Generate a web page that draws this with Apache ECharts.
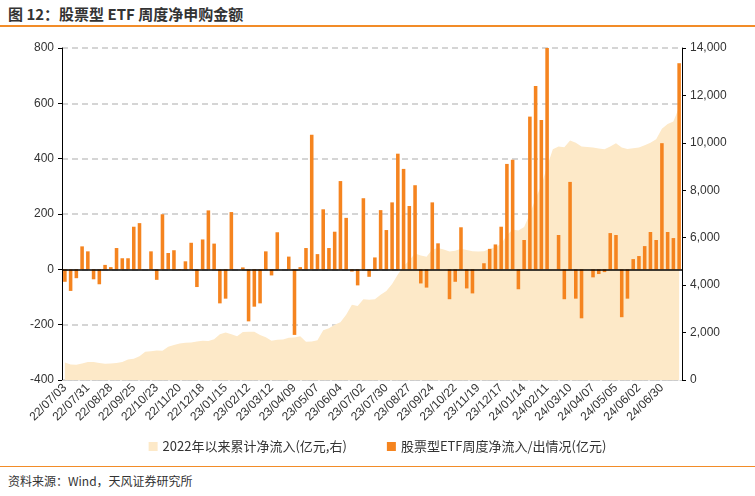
<!DOCTYPE html>
<html lang="zh">
<head>
    <meta charset="UTF-8">
    <title>股票型ETF周度净申购金额</title>
    <script src="https://cdn.jsdelivr.net/npm/echarts@6/dist/echarts.min.js"></script>
    <style>
        body { margin: 0; width: 755px; height: 496px; background: #fff; font-family: "Noto Sans CJK SC", sans-serif; overflow: hidden; }
        .title { position: absolute; left: 8px; top: 3px; font-size: 15px; font-weight: bold; color: #333; }
        .line-top { position: absolute; left: 0; top: 25px; width: 755px; height: 2px; background: #f28c28; }
        .line-bot { position: absolute; left: 0; top: 466px; width: 755px; height: 1px; background: #f28c28; }
        .source { position: absolute; left: 8px; top: 472px; font-size: 12px; color: #333; }
        #chart { position: absolute; left: 0; top: 28px; width: 755px; height: 438px; }
    </style>
</head>
<body>
<div class="title">图 12：股票型 ETF 周度净申购金额</div>
<div class="line-top"></div>
<div id="chart"></div>
<div class="line-bot"></div>
<div class="source">资料来源：Wind，天风证券研究所</div>
<script>
    // 周度净流入（亿元，左轴）
    var weekly = [-45,-78,-32,83,65,-36,-54,16,8,77,40,40,154,167,0,65,-38,199,59,69,
        -3,29,96,-64,108,213,93,-123,-106,207,0,7,-188,-135,-123,65,-22,134,0,46,
        -237,8,77,486,55,217,77,136,319,186,-8,-58,
        257,-27,43,214,142,242,418,363,229,304,-51,-66,242,94,0,-108,-45,152,-69,-87,
        0,22,74,90,154,381,396,-72,106,552,663,540,800,0,124,-108,316,-106,-177,0,
        -29,-17,-10,131,124,-173,-106,37,48,84,135,106,456,135,113,745];
    // 2022年以来累计净流入（亿元，右轴）
    var cumulative = [742,650,640,700,760,760,720,690,700,720,760,860,900,1000,1190,1210,1240,1230,1400,1480,
        1540,1570,1580,1620,1650,1640,1720,1930,2000,1930,1850,2020,2030,2030,1900,1800,1660,1700,1710,1780,
        1790,1840,1610,1620,1680,2100,2180,2330,2440,2750,3178,3122,
        3400,3380,3400,3600,3750,4050,4450,4800,5050,5330,5250,5200,5500,5570,5500,5420,5450,5530,5480,5430,
        5420,5430,5520,5600,5750,6100,6350,6300,6450,7000,7650,8200,9000,9730,9850,9820,10100,10000,9850,9830,
        9800,9760,9730,9850,9980,9800,9740,9770,9800,9900,10000,10150,10600,10800,10900,11500];

    // 周日期
    var dates = [];
    var d = new Date(2022, 6, 3);
    for (var i = 0; i < weekly.length; i++) {
        var yy = String(d.getFullYear()).slice(2);
        var mm = ('0' + (d.getMonth() + 1)).slice(-2);
        var dd = ('0' + d.getDate()).slice(-2);
        dates.push(yy + '/' + mm + '/' + dd);
        d.setDate(d.getDate() + 7);
    }

    var chart = echarts.init(document.getElementById('chart'));
    chart.setOption({
        animation: false,
        textStyle: { fontFamily: 'Liberation Sans, Noto Sans CJK SC' },
        grid: { left: 62, right: 73, top: 20, bottom: 86 },
        legend: {
            bottom: 8,
            itemWidth: 9, itemHeight: 9, itemGap: 40,
            textStyle: { fontSize: 13, color: '#333', fontFamily: 'Noto Sans CJK SC' },
            data: [
                { name: '2022年以来累计净流入(亿元,右)', icon: 'rect' },
                { name: '股票型ETF周度净流入/出情况(亿元)', icon: 'rect' }
            ]
        },
        xAxis: {
            type: 'category',
            data: dates,
            boundaryGap: true,
            axisLine: { onZero: false, lineStyle: { color: '#ccc', type: 'dashed' } },
            axisTick: { show: false },
            axisLabel: { interval: 3, rotate: 45, fontSize: 12, color: '#333', margin: 6 }
        },
        yAxis: [
            {
                type: 'value', min: -400, max: 800, interval: 200,
                axisLine: { show: true, lineStyle: { color: '#000' } },
                axisTick: { show: true, length: 4, lineStyle: { color: '#000' } },
                axisLabel: { color: '#333', fontSize: 12 },
                splitLine: { lineStyle: { color: '#c8c8c8', type: [6, 4], width: 1.5 } }
            },
            {
                type: 'value', min: 0, max: 14000, interval: 2000,
                axisLine: { show: true, lineStyle: { color: '#000' } },
                axisTick: { show: true, length: 4, lineStyle: { color: '#000' } },
                axisLabel: {
                    color: '#333', fontSize: 12,
                    formatter: function (v) { return v.toLocaleString('en-US'); }
                },
                splitLine: { show: false }
            }
        ],
        series: [
            {
                name: '2022年以来累计净流入(亿元,右)',
                type: 'line',
                yAxisIndex: 1,
                data: cumulative,
                symbol: 'none',
                lineStyle: { width: 0 },
                itemStyle: { color: '#fde9c8' },
                areaStyle: { color: '#fde9c8', opacity: 1 },
                z: 1
            },
            {
                name: '股票型ETF周度净流入/出情况(亿元)',
                type: 'bar',
                data: weekly,
                barWidth: '62%',
                itemStyle: { color: '#f5841f' },
                z: 3,
                markLine: {
                    silent: true, symbol: 'none', label: { show: false },
                    lineStyle: { color: '#000', type: 'solid', width: 1.5 },
                    data: [{ yAxis: 0 }]
                }
            }
        ]
    });
</script>
</body>
</html>
